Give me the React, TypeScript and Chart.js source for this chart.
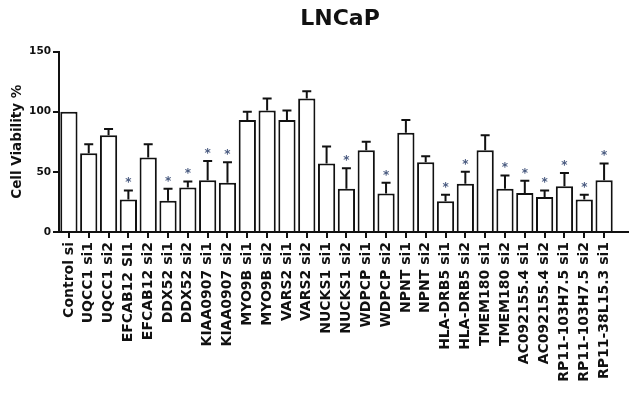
import React, { useEffect, useRef } from 'react';
import { Chart, registerables } from 'chart.js';

Chart.register(...registerables);

const chartTitle = 'LNCaP';
const yTitle = 'Cell Viability %';

const categories = [
  'Control si', 'UQCC1 si1', 'UQCC1 si2', 'EFCAB12 SI1', 'EFCAB12 si2',
  'DDX52 si1', 'DDX52 si2', 'KIAA0907 si1', 'KIAA0907 si2', 'MYO9B si1',
  'MYO9B si2', 'VARS2 si1', 'VARS2 si2', 'NUCKS1 si1', 'NUCKS1 si2',
  'WDPCP si1', 'WDPCP si2', 'NPNT si1', 'NPNT si2', 'HLA-DRB5 si1',
  'HLA-DRB5 si2', 'TMEM180 si1', 'TMEM180 si2', 'AC092155.4 si1', 'AC092155.4 si2',
  'RP11-103H7.5 si1', 'RP11-103H7.5 si2', 'RP11-38L15.3 si1',
];

const viability = [
  100, 65.5, 80.5, 27, 62,
  26, 37, 43, 41, 93,
  101, 93, 111, 57, 36,
  68, 32, 82.5, 58, 25.5,
  40, 68, 36, 32.5, 29,
  38, 27, 43,
];

const errorUp = [
  0, 7.5, 5, 7.5, 11,
  10, 5, 16, 17, 7,
  10, 8, 6, 14, 17,
  7, 9, 10.5, 5, 5.5,
  10, 12.5, 11, 10, 5.5,
  11, 4, 14,
];

const significant = [
  false, false, false, true, false,
  true, true, true, true, false,
  false, false, false, false, true,
  false, true, false, false, true,
  true, false, true, true, true,
  true, true, true,
];

const yTicks = [0, 50, 100, 150];

const FONT = "'DejaVu Sans', sans-serif";
const INK = '#111111';

export default function App() {
  const ref = useRef<HTMLCanvasElement>(null);

  useEffect(() => {
    const canvas = ref.current;
    if (!canvas) return;

    const extrasPlugin = {
      id: 'errorBarsStarsTitle',
      afterDatasetsDraw(chart: any) {
        const { ctx, chartArea } = chart;
        const x = chart.scales.x;
        const y = chart.scales.y;
        ctx.save();
        ctx.strokeStyle = INK;
        ctx.lineWidth = 2;
        viability.forEach((v, i) => {
          const e = errorUp[i];
          const cx = x.getPixelForValue(i);
          const yTop = y.getPixelForValue(v);
          const yErr = y.getPixelForValue(v + e);
          if (e > 0) {
            ctx.beginPath();
            ctx.moveTo(cx, yTop);
            ctx.lineTo(cx, yErr);
            ctx.moveTo(cx - 4.5, yErr);
            ctx.lineTo(cx + 4.5, yErr);
            ctx.stroke();
          }
          if (significant[i]) {
            ctx.fillStyle = '#4a5b80';
            ctx.font = `bold 12px ${FONT}`;
            ctx.textAlign = 'center';
            ctx.textBaseline = 'alphabetic';
            ctx.fillText('*', cx, yErr - 4);
          }
        });
        const y0 = y.getPixelForValue(0);
        ctx.beginPath();
        ctx.moveTo(chartArea.right - 1, y0);
        ctx.lineTo(chart.width, y0);
        ctx.stroke();

        ctx.fillStyle = INK;
        ctx.font = `bold 22px ${FONT}`;
        ctx.textAlign = 'center';
        ctx.textBaseline = 'middle';
        ctx.fillText(chartTitle, (chartArea.left + chartArea.right) / 2 + 3.5, 19);
        ctx.restore();
      },
    };

    const chart = new Chart(canvas, {
      type: 'bar',
      data: {
        labels: categories,
        datasets: [
          {
            data: viability,
            backgroundColor: '#ffffff',
            borderColor: INK,
            borderWidth: 2,
            barPercentage: 0.87,
            categoryPercentage: 1,
          },
        ],
      },
      options: {
        animation: false,
        responsive: false,
        layout: { padding: { left: 0, right: 15, top: 51.5, bottom: 0 } },
        plugins: {
          legend: { display: false },
          tooltip: { enabled: false },
          title: { display: false },
        },
        scales: {
          x: {
            type: 'category',
            offset: true,
            grid: {
              display: true,
              offset: false,
              drawOnChartArea: false,
              drawTicks: true,
              tickLength: 6,
              color: INK,
              lineWidth: 2,
            },
            border: { display: true, color: INK, width: 2 },
            ticks: {
              autoSkip: false,
              maxRotation: 90,
              minRotation: 90,
              padding: 4,
              color: INK,
              font: { family: FONT, size: 14, weight: 'bold' },
            },
            afterFit: (s: any) => {
              s.height = 161;
            },
          },
          y: {
            min: 0,
            max: 150,
            afterBuildTicks: (s: any) => {
              s.ticks = yTicks.map((v) => ({ value: v }));
            },
            ticks: {
              padding: 2,
              color: INK,
              font: { family: FONT, size: 10.5, weight: 'bold' },
            },
            grid: {
              display: true,
              drawOnChartArea: false,
              drawTicks: true,
              tickLength: 6,
              color: INK,
              lineWidth: 2,
            },
            border: { display: true, color: INK, width: 2 },
            title: {
              display: true,
              text: yTitle,
              color: INK,
              font: { family: FONT, size: 13.5, weight: 'bold', lineHeight: 1.2 },
              padding: { top: 9, bottom: 0 },
            },
            afterFit: (s: any) => {
              s.width = 59;
            },
          },
        },
      } as any,
      plugins: [extrasPlugin],
    });

    return () => {
      chart.destroy();
    };
  }, []);

  return (
    <div style={{ position: 'absolute', left: 0, top: 0, width: 629, height: 393, background: '#fff' }}>
      <canvas ref={ref} width={629} height={393} style={{ display: 'block' }} />
    </div>
  );
}
